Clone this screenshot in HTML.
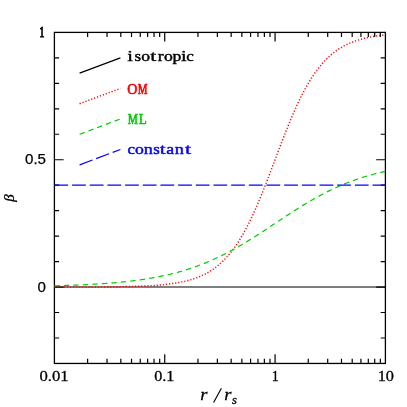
<!DOCTYPE html>
<html><head><meta charset="utf-8"><title>beta</title>
<style>
html,body{margin:0;padding:0;background:#fff;}
body{width:407px;height:407px;overflow:hidden;font-family:"Liberation Sans",sans-serif;}
svg{display:block;will-change:transform;}
</style></head><body>
<svg width="407" height="407" viewBox="0 0 407 407">
<rect x="54.4" y="32.4" width="331.00" height="331.05" fill="none" stroke="#000" stroke-width="1.3"/>
<path d="M87.61 363.45 v-4.7 M87.61 32.4 v4.7 M107.04 363.45 v-4.7 M107.04 32.4 v4.7 M120.83 363.45 v-4.7 M120.83 32.4 v4.7 M131.52 363.45 v-4.7 M131.52 32.4 v4.7 M140.26 363.45 v-4.7 M140.26 32.4 v4.7 M147.64 363.45 v-4.7 M147.64 32.4 v4.7 M154.04 363.45 v-4.7 M154.04 32.4 v4.7 M159.68 363.45 v-4.7 M159.68 32.4 v4.7 M164.73 363.45 v-9.2 M164.73 32.4 v9.2 M197.95 363.45 v-4.7 M197.95 32.4 v4.7 M217.38 363.45 v-4.7 M217.38 32.4 v4.7 M231.16 363.45 v-4.7 M231.16 32.4 v4.7 M241.85 363.45 v-4.7 M241.85 32.4 v4.7 M250.59 363.45 v-4.7 M250.59 32.4 v4.7 M257.98 363.45 v-4.7 M257.98 32.4 v4.7 M264.37 363.45 v-4.7 M264.37 32.4 v4.7 M270.02 363.45 v-4.7 M270.02 32.4 v4.7 M275.07 363.45 v-9.2 M275.07 32.4 v9.2 M308.28 363.45 v-4.7 M308.28 32.4 v4.7 M327.71 363.45 v-4.7 M327.71 32.4 v4.7 M341.49 363.45 v-4.7 M341.49 32.4 v4.7 M352.19 363.45 v-4.7 M352.19 32.4 v4.7 M360.92 363.45 v-4.7 M360.92 32.4 v4.7 M368.31 363.45 v-4.7 M368.31 32.4 v4.7 M374.71 363.45 v-4.7 M374.71 32.4 v4.7 M380.35 363.45 v-4.7 M380.35 32.4 v4.7 M54.4 337.98 h4.7 M385.4 337.98 h-4.7 M54.4 312.52 h4.7 M385.4 312.52 h-4.7 M54.4 287.05 h9.2 M385.4 287.05 h-9.2 M54.4 261.59 h4.7 M385.4 261.59 h-4.7 M54.4 236.12 h4.7 M385.4 236.12 h-4.7 M54.4 210.66 h4.7 M385.4 210.66 h-4.7 M54.4 185.19 h4.7 M385.4 185.19 h-4.7 M54.4 159.73 h9.2 M385.4 159.73 h-9.2 M54.4 134.26 h4.7 M385.4 134.26 h-4.7 M54.4 108.80 h4.7 M385.4 108.80 h-4.7 M54.4 83.33 h4.7 M385.4 83.33 h-4.7 M54.4 57.87 h4.7 M385.4 57.87 h-4.7" stroke="#000" stroke-width="1.2" fill="none"/>
<path d="M54.4 286.95 H385.4" stroke="#000" stroke-width="1.1" fill="none"/>
<path d="M54.40 287.03 L55.50 287.03 L56.61 287.03 L57.71 287.02 L58.81 287.02 L59.92 287.02 L61.02 287.02 L62.12 287.02 L63.23 287.02 L64.33 287.02 L65.43 287.01 L66.54 287.01 L67.64 287.01 L68.74 287.01 L69.85 287.01 L70.95 287.00 L72.05 287.00 L73.16 287.00 L74.26 287.00 L75.36 286.99 L76.47 286.99 L77.57 286.99 L78.67 286.98 L79.78 286.98 L80.88 286.98 L81.98 286.97 L83.09 286.97 L84.19 286.97 L85.29 286.96 L86.40 286.96 L87.50 286.95 L88.60 286.95 L89.71 286.94 L90.81 286.94 L91.91 286.93 L93.02 286.93 L94.12 286.92 L95.22 286.91 L96.33 286.91 L97.43 286.90 L98.53 286.89 L99.64 286.89 L100.74 286.88 L101.84 286.87 L102.95 286.86 L104.05 286.85 L105.15 286.84 L106.26 286.83 L107.36 286.82 L108.46 286.81 L109.57 286.80 L110.67 286.79 L111.77 286.77 L112.88 286.76 L113.98 286.75 L115.08 286.73 L116.19 286.72 L117.29 286.70 L118.39 286.69 L119.50 286.67 L120.60 286.65 L121.70 286.63 L122.81 286.61 L123.91 286.59 L125.01 286.57 L126.12 286.55 L127.22 286.52 L128.32 286.50 L129.43 286.47 L130.53 286.44 L131.63 286.42 L132.74 286.39 L133.84 286.35 L134.94 286.32 L136.05 286.29 L137.15 286.25 L138.25 286.21 L139.36 286.17 L140.46 286.13 L141.56 286.09 L142.67 286.04 L143.77 286.00 L144.87 285.95 L145.98 285.90 L147.08 285.84 L148.18 285.78 L149.29 285.72 L150.39 285.66 L151.49 285.60 L152.60 285.53 L153.70 285.46 L154.80 285.38 L155.91 285.30 L157.01 285.22 L158.11 285.14 L159.22 285.05 L160.32 284.95 L161.42 284.86 L162.53 284.75 L163.63 284.64 L164.73 284.53 L165.84 284.41 L166.94 284.29 L168.04 284.16 L169.15 284.03 L170.25 283.89 L171.35 283.74 L172.46 283.59 L173.56 283.43 L174.66 283.26 L175.77 283.08 L176.87 282.90 L177.97 282.70 L179.08 282.50 L180.18 282.29 L181.28 282.07 L182.39 281.84 L183.49 281.60 L184.59 281.35 L185.70 281.09 L186.80 280.81 L187.90 280.53 L189.01 280.23 L190.11 279.92 L191.21 279.59 L192.32 279.25 L193.42 278.89 L194.52 278.52 L195.63 278.13 L196.73 277.73 L197.83 277.30 L198.94 276.86 L200.04 276.40 L201.14 275.92 L202.25 275.42 L203.35 274.90 L204.45 274.36 L205.56 273.79 L206.66 273.20 L207.76 272.58 L208.87 271.94 L209.97 271.27 L211.07 270.58 L212.18 269.85 L213.28 269.10 L214.38 268.31 L215.49 267.50 L216.59 266.65 L217.69 265.77 L218.80 264.85 L219.90 263.90 L221.00 262.92 L222.11 261.89 L223.21 260.83 L224.31 259.72 L225.42 258.58 L226.52 257.39 L227.62 256.17 L228.73 254.89 L229.83 253.58 L230.93 252.22 L232.04 250.81 L233.14 249.35 L234.24 247.85 L235.35 246.30 L236.45 244.70 L237.55 243.04 L238.66 241.34 L239.76 239.59 L240.86 237.79 L241.97 235.93 L243.07 234.02 L244.17 232.06 L245.28 230.05 L246.38 227.99 L247.48 225.87 L248.59 223.71 L249.69 221.49 L250.79 219.22 L251.90 216.91 L253.00 214.54 L254.10 212.13 L255.21 209.67 L256.31 207.17 L257.41 204.62 L258.52 202.03 L259.62 199.41 L260.72 196.74 L261.83 194.04 L262.93 191.30 L264.03 188.54 L265.14 185.74 L266.24 182.92 L267.34 180.07 L268.45 177.21 L269.55 174.32 L270.65 171.42 L271.76 168.51 L272.86 165.59 L273.96 162.66 L275.07 159.73 L276.17 156.80 L277.27 153.87 L278.38 150.95 L279.48 148.03 L280.58 145.13 L281.69 142.25 L282.79 139.38 L283.89 136.53 L285.00 133.71 L286.10 130.92 L287.20 128.15 L288.31 125.41 L289.41 122.71 L290.51 120.05 L291.62 117.42 L292.72 114.83 L293.82 112.28 L294.93 109.78 L296.03 107.32 L297.13 104.91 L298.24 102.55 L299.34 100.23 L300.44 97.96 L301.55 95.75 L302.65 93.58 L303.75 91.47 L304.86 89.40 L305.96 87.39 L307.06 85.43 L308.17 83.52 L309.27 81.67 L310.37 79.86 L311.48 78.11 L312.58 76.41 L313.68 74.76 L314.79 73.16 L315.89 71.61 L316.99 70.10 L318.10 68.65 L319.20 67.24 L320.30 65.88 L321.41 64.56 L322.51 63.29 L323.61 62.06 L324.72 60.87 L325.82 59.73 L326.92 58.63 L328.03 57.56 L329.13 56.54 L330.23 55.55 L331.34 54.60 L332.44 53.68 L333.54 52.80 L334.65 51.95 L335.75 51.14 L336.85 50.36 L337.96 49.60 L339.06 48.88 L340.16 48.18 L341.27 47.51 L342.37 46.87 L343.47 46.26 L344.58 45.67 L345.68 45.10 L346.78 44.55 L347.89 44.03 L348.99 43.53 L350.09 43.05 L351.20 42.59 L352.30 42.15 L353.40 41.73 L354.51 41.32 L355.61 40.93 L356.71 40.56 L357.82 40.21 L358.92 39.86 L360.02 39.54 L361.13 39.23 L362.23 38.93 L363.33 38.64 L364.44 38.37 L365.54 38.10 L366.64 37.85 L367.75 37.61 L368.85 37.38 L369.95 37.16 L371.06 36.95 L372.16 36.75 L373.26 36.56 L374.37 36.37 L375.47 36.20 L376.57 36.03 L377.68 35.87 L378.78 35.71 L379.88 35.57 L380.99 35.43 L382.09 35.29 L383.19 35.16 L384.30 35.04 L385.40 34.92" stroke="#ff0000" stroke-width="1.45" fill="none" stroke-dasharray="1.2 1.9"/>
<path d="M54.40 285.79 L55.50 285.76 L56.61 285.73 L57.71 285.70 L58.81 285.67 L59.92 285.64 L61.02 285.61 L62.12 285.58 L63.23 285.54 L64.33 285.51 L65.43 285.47 L66.54 285.43 L67.64 285.40 L68.74 285.36 L69.85 285.32 L70.95 285.28 L72.05 285.24 L73.16 285.20 L74.26 285.16 L75.36 285.11 L76.47 285.07 L77.57 285.02 L78.67 284.98 L79.78 284.93 L80.88 284.88 L81.98 284.83 L83.09 284.78 L84.19 284.73 L85.29 284.67 L86.40 284.62 L87.50 284.56 L88.60 284.51 L89.71 284.45 L90.81 284.39 L91.91 284.33 L93.02 284.27 L94.12 284.20 L95.22 284.14 L96.33 284.07 L97.43 284.00 L98.53 283.93 L99.64 283.86 L100.74 283.79 L101.84 283.72 L102.95 283.64 L104.05 283.56 L105.15 283.48 L106.26 283.40 L107.36 283.32 L108.46 283.24 L109.57 283.15 L110.67 283.06 L111.77 282.97 L112.88 282.88 L113.98 282.79 L115.08 282.69 L116.19 282.59 L117.29 282.49 L118.39 282.39 L119.50 282.29 L120.60 282.18 L121.70 282.07 L122.81 281.96 L123.91 281.84 L125.01 281.73 L126.12 281.61 L127.22 281.49 L128.32 281.36 L129.43 281.24 L130.53 281.11 L131.63 280.98 L132.74 280.84 L133.84 280.70 L134.94 280.56 L136.05 280.42 L137.15 280.27 L138.25 280.13 L139.36 279.97 L140.46 279.82 L141.56 279.66 L142.67 279.50 L143.77 279.33 L144.87 279.16 L145.98 278.99 L147.08 278.81 L148.18 278.64 L149.29 278.45 L150.39 278.27 L151.49 278.08 L152.60 277.88 L153.70 277.68 L154.80 277.48 L155.91 277.28 L157.01 277.07 L158.11 276.85 L159.22 276.63 L160.32 276.41 L161.42 276.19 L162.53 275.95 L163.63 275.72 L164.73 275.48 L165.84 275.23 L166.94 274.98 L168.04 274.73 L169.15 274.47 L170.25 274.21 L171.35 273.94 L172.46 273.67 L173.56 273.39 L174.66 273.11 L175.77 272.82 L176.87 272.52 L177.97 272.22 L179.08 271.92 L180.18 271.61 L181.28 271.29 L182.39 270.97 L183.49 270.65 L184.59 270.32 L185.70 269.98 L186.80 269.63 L187.90 269.29 L189.01 268.93 L190.11 268.57 L191.21 268.20 L192.32 267.83 L193.42 267.45 L194.52 267.07 L195.63 266.68 L196.73 266.28 L197.83 265.87 L198.94 265.46 L200.04 265.05 L201.14 264.63 L202.25 264.20 L203.35 263.76 L204.45 263.32 L205.56 262.87 L206.66 262.42 L207.76 261.96 L208.87 261.49 L209.97 261.02 L211.07 260.54 L212.18 260.05 L213.28 259.56 L214.38 259.06 L215.49 258.55 L216.59 258.04 L217.69 257.52 L218.80 257.00 L219.90 256.46 L221.00 255.92 L222.11 255.38 L223.21 254.83 L224.31 254.27 L225.42 253.71 L226.52 253.14 L227.62 252.56 L228.73 251.98 L229.83 251.39 L230.93 250.80 L232.04 250.20 L233.14 249.59 L234.24 248.98 L235.35 248.36 L236.45 247.74 L237.55 247.11 L238.66 246.48 L239.76 245.84 L240.86 245.19 L241.97 244.54 L243.07 243.89 L244.17 243.23 L245.28 242.57 L246.38 241.90 L247.48 241.22 L248.59 240.55 L249.69 239.87 L250.79 239.18 L251.90 238.49 L253.00 237.80 L254.10 237.10 L255.21 236.40 L256.31 235.69 L257.41 234.99 L258.52 234.28 L259.62 233.56 L260.72 232.85 L261.83 232.13 L262.93 231.41 L264.03 230.69 L265.14 229.96 L266.24 229.24 L267.34 228.51 L268.45 227.78 L269.55 227.05 L270.65 226.32 L271.76 225.59 L272.86 224.86 L273.96 224.12 L275.07 223.39 L276.17 222.66 L277.27 221.92 L278.38 221.19 L279.48 220.46 L280.58 219.73 L281.69 219.00 L282.79 218.27 L283.89 217.54 L285.00 216.82 L286.10 216.09 L287.20 215.37 L288.31 214.65 L289.41 213.93 L290.51 213.22 L291.62 212.50 L292.72 211.79 L293.82 211.09 L294.93 210.38 L296.03 209.68 L297.13 208.99 L298.24 208.29 L299.34 207.60 L300.44 206.92 L301.55 206.23 L302.65 205.56 L303.75 204.88 L304.86 204.21 L305.96 203.55 L307.06 202.89 L308.17 202.24 L309.27 201.59 L310.37 200.94 L311.48 200.30 L312.58 199.67 L313.68 199.04 L314.79 198.42 L315.89 197.80 L316.99 197.19 L318.10 196.58 L319.20 195.98 L320.30 195.39 L321.41 194.80 L322.51 194.22 L323.61 193.64 L324.72 193.07 L325.82 192.51 L326.92 191.95 L328.03 191.40 L329.13 190.86 L330.23 190.32 L331.34 189.79 L332.44 189.26 L333.54 188.74 L334.65 188.23 L335.75 187.72 L336.85 187.22 L337.96 186.73 L339.06 186.24 L340.16 185.76 L341.27 185.29 L342.37 184.82 L343.47 184.36 L344.58 183.91 L345.68 183.46 L346.78 183.02 L347.89 182.58 L348.99 182.15 L350.09 181.73 L351.20 181.32 L352.30 180.91 L353.40 180.50 L354.51 180.11 L355.61 179.71 L356.71 179.33 L357.82 178.95 L358.92 178.58 L360.02 178.21 L361.13 177.85 L362.23 177.50 L363.33 177.15 L364.44 176.80 L365.54 176.47 L366.64 176.13 L367.75 175.81 L368.85 175.49 L369.95 175.17 L371.06 174.86 L372.16 174.56 L373.26 174.26 L374.37 173.96 L375.47 173.68 L376.57 173.39 L377.68 173.11 L378.78 172.84 L379.88 172.57 L380.99 172.31 L382.09 172.05 L383.19 171.80 L384.30 171.55 L385.40 171.30" stroke="#00cc00" stroke-width="1.2" fill="none" stroke-dasharray="5.4 4.1"/>
<path d="M54.4 185.19 H385.4" stroke="#0000ff" stroke-width="1.2" fill="none" stroke-dasharray="13.75 3.925"/>
<path d="M79.6 73.14 L120.4 57.87" stroke="#000" stroke-width="1.2" fill="none"/>
<path d="M79.6 103.70 L120.4 88.42" stroke="#ff0000" stroke-width="1.45" fill="none" stroke-dasharray="1.2 1.9"/>
<path d="M79.6 134.26 L120.4 118.98" stroke="#00cc00" stroke-width="1.2" fill="none" stroke-dasharray="5.3 4.06"/>
<path d="M79.6 164.82 L120.4 149.54" stroke="#0000ff" stroke-width="1.2" fill="none" stroke-dasharray="13.75 3.925"/>
<text transform="translate(130.20 61.2) scale(1.35 1)" text-anchor="middle" font-family="'Liberation Serif', serif" font-size="15.2" fill="#000" stroke="#000" stroke-width="0.45" stroke-linejoin="round" vector-effect="non-scaling-stroke">i</text>
<text transform="translate(137.70 61.2) scale(1.12 1)" text-anchor="middle" font-family="'Liberation Serif', serif" font-size="15.2" fill="#000" stroke="#000" stroke-width="0.45" stroke-linejoin="round" vector-effect="non-scaling-stroke">s</text>
<text transform="translate(145.70 61.2) scale(1.16 1)" text-anchor="middle" font-family="'Liberation Serif', serif" font-size="15.2" fill="#000" stroke="#000" stroke-width="0.45" stroke-linejoin="round" vector-effect="non-scaling-stroke">o</text>
<text transform="translate(153.40 61.2) scale(1.45 1)" text-anchor="middle" font-family="'Liberation Serif', serif" font-size="15.2" fill="#000" stroke="#000" stroke-width="0.45" stroke-linejoin="round" vector-effect="non-scaling-stroke">t</text>
<text transform="translate(160.80 61.2) scale(1.16 1)" text-anchor="middle" font-family="'Liberation Serif', serif" font-size="15.2" fill="#000" stroke="#000" stroke-width="0.45" stroke-linejoin="round" vector-effect="non-scaling-stroke">r</text>
<text transform="translate(168.40 61.2) scale(1.16 1)" text-anchor="middle" font-family="'Liberation Serif', serif" font-size="15.2" fill="#000" stroke="#000" stroke-width="0.45" stroke-linejoin="round" vector-effect="non-scaling-stroke">o</text>
<text transform="translate(176.80 61.2) scale(1.16 1)" text-anchor="middle" font-family="'Liberation Serif', serif" font-size="15.2" fill="#000" stroke="#000" stroke-width="0.45" stroke-linejoin="round" vector-effect="non-scaling-stroke">p</text>
<text transform="translate(183.90 61.2) scale(1.35 1)" text-anchor="middle" font-family="'Liberation Serif', serif" font-size="15.2" fill="#000" stroke="#000" stroke-width="0.45" stroke-linejoin="round" vector-effect="non-scaling-stroke">i</text>
<text transform="translate(190.00 61.2) scale(1.12 1)" text-anchor="middle" font-family="'Liberation Serif', serif" font-size="15.2" fill="#000" stroke="#000" stroke-width="0.45" stroke-linejoin="round" vector-effect="non-scaling-stroke">c</text>
<text transform="translate(132.40 93.5) scale(0.92 1)" text-anchor="middle" font-family="'Liberation Serif', serif" font-size="15.2" fill="#ff0000" stroke="#ff0000" stroke-width="0.65" stroke-linejoin="round" vector-effect="non-scaling-stroke">O</text>
<text transform="translate(142.60 93.5) scale(0.72 1)" text-anchor="middle" font-family="'Liberation Serif', serif" font-size="15.2" fill="#ff0000" stroke="#ff0000" stroke-width="0.65" stroke-linejoin="round" vector-effect="non-scaling-stroke">M</text>
<text transform="translate(132.70 123.9) scale(0.75 1)" text-anchor="middle" font-family="'Liberation Serif', serif" font-size="15.2" fill="#00cc00" stroke="#00cc00" stroke-width="0.65" stroke-linejoin="round" vector-effect="non-scaling-stroke">M</text>
<text transform="translate(142.70 123.9) scale(0.86 1)" text-anchor="middle" font-family="'Liberation Serif', serif" font-size="15.2" fill="#00cc00" stroke="#00cc00" stroke-width="0.65" stroke-linejoin="round" vector-effect="non-scaling-stroke">L</text>
<text transform="translate(131.30 154.3) scale(1.12 1)" text-anchor="middle" font-family="'Liberation Serif', serif" font-size="15.2" fill="#0000ff" stroke="#0000ff" stroke-width="0.5" stroke-linejoin="round" vector-effect="non-scaling-stroke">c</text>
<text transform="translate(139.40 154.3) scale(1.16 1)" text-anchor="middle" font-family="'Liberation Serif', serif" font-size="15.2" fill="#0000ff" stroke="#0000ff" stroke-width="0.5" stroke-linejoin="round" vector-effect="non-scaling-stroke">o</text>
<text transform="translate(148.20 154.3) scale(1.2 1)" text-anchor="middle" font-family="'Liberation Serif', serif" font-size="15.2" fill="#0000ff" stroke="#0000ff" stroke-width="0.5" stroke-linejoin="round" vector-effect="non-scaling-stroke">n</text>
<text transform="translate(156.60 154.3) scale(1.1 1)" text-anchor="middle" font-family="'Liberation Serif', serif" font-size="15.2" fill="#0000ff" stroke="#0000ff" stroke-width="0.5" stroke-linejoin="round" vector-effect="non-scaling-stroke">s</text>
<text transform="translate(162.80 154.3) scale(1.4 1)" text-anchor="middle" font-family="'Liberation Serif', serif" font-size="15.2" fill="#0000ff" stroke="#0000ff" stroke-width="0.5" stroke-linejoin="round" vector-effect="non-scaling-stroke">t</text>
<text transform="translate(170.20 154.3) scale(1.16 1)" text-anchor="middle" font-family="'Liberation Serif', serif" font-size="15.2" fill="#0000ff" stroke="#0000ff" stroke-width="0.5" stroke-linejoin="round" vector-effect="non-scaling-stroke">a</text>
<text transform="translate(179.20 154.3) scale(1.2 1)" text-anchor="middle" font-family="'Liberation Serif', serif" font-size="15.2" fill="#0000ff" stroke="#0000ff" stroke-width="0.5" stroke-linejoin="round" vector-effect="non-scaling-stroke">n</text>
<text transform="translate(188.00 154.3) scale(1.45 1)" text-anchor="middle" font-family="'Liberation Serif', serif" font-size="15.2" fill="#0000ff" stroke="#0000ff" stroke-width="0.5" stroke-linejoin="round" vector-effect="non-scaling-stroke">t</text>
<text transform="translate(44.5 37.4) scale(0.66 1)" text-anchor="end" font-family="'Liberation Serif', serif" font-size="14.8" fill="#000" stroke="#000" stroke-width="0.85" vector-effect="non-scaling-stroke">1</text>
<text x="46.0" y="164.33" text-anchor="end" font-family="'Liberation Sans', sans-serif" font-size="15.1" fill="#000" stroke="#000" stroke-width="0.25">0.5</text>
<text x="46.0" y="291.65" text-anchor="end" font-family="'Liberation Sans', sans-serif" font-size="15.1" fill="#000" stroke="#000" stroke-width="0.25">0</text>
<text x="39.40" y="380.9" textLength="29.2" lengthAdjust="spacingAndGlyphs" font-family="'Liberation Serif', serif" font-size="14.4" fill="#000" stroke="#000" stroke-width="0.3">0.01</text>
<text x="154.20" y="380.9" textLength="20.2" lengthAdjust="spacingAndGlyphs" font-family="'Liberation Serif', serif" font-size="14.4" fill="#000" stroke="#000" stroke-width="0.3">0.1</text>
<text x="271.70" y="380.9" textLength="7.0" lengthAdjust="spacingAndGlyphs" font-family="'Liberation Serif', serif" font-size="14.4" fill="#000" stroke="#000" stroke-width="0.3">1</text>
<text x="377.70" y="380.9" textLength="16.3" lengthAdjust="spacingAndGlyphs" font-family="'Liberation Serif', serif" font-size="14.4" fill="#000" stroke="#000" stroke-width="0.3">10</text>
<text transform="translate(200.2 399.8) scale(1.15 1)" font-family="'Liberation Serif', serif" font-style="italic" font-size="16" fill="#000" stroke="#000" stroke-width="0.3" vector-effect="non-scaling-stroke">r</text>
<path d="M213.6 402.5 L221.4 388.2" stroke="#000" stroke-width="1.15" fill="none"/>
<text transform="translate(224.3 399.8) scale(1.15 1)" font-family="'Liberation Serif', serif" font-style="italic" font-size="16" fill="#000" stroke="#000" stroke-width="0.3" vector-effect="non-scaling-stroke">r</text>
<text transform="translate(232.0 403.8) scale(1.08 1)" font-family="'Liberation Serif', serif" font-style="italic" font-size="11.6" fill="#000" stroke="#000" stroke-width="0.3" vector-effect="non-scaling-stroke">s</text>
<text transform="translate(13.5 201.8) rotate(-90)" font-family="'Liberation Serif', serif" font-style="italic" font-size="15" fill="#000" stroke="#000" stroke-width="0.3">β</text>
</svg>
</body></html>
